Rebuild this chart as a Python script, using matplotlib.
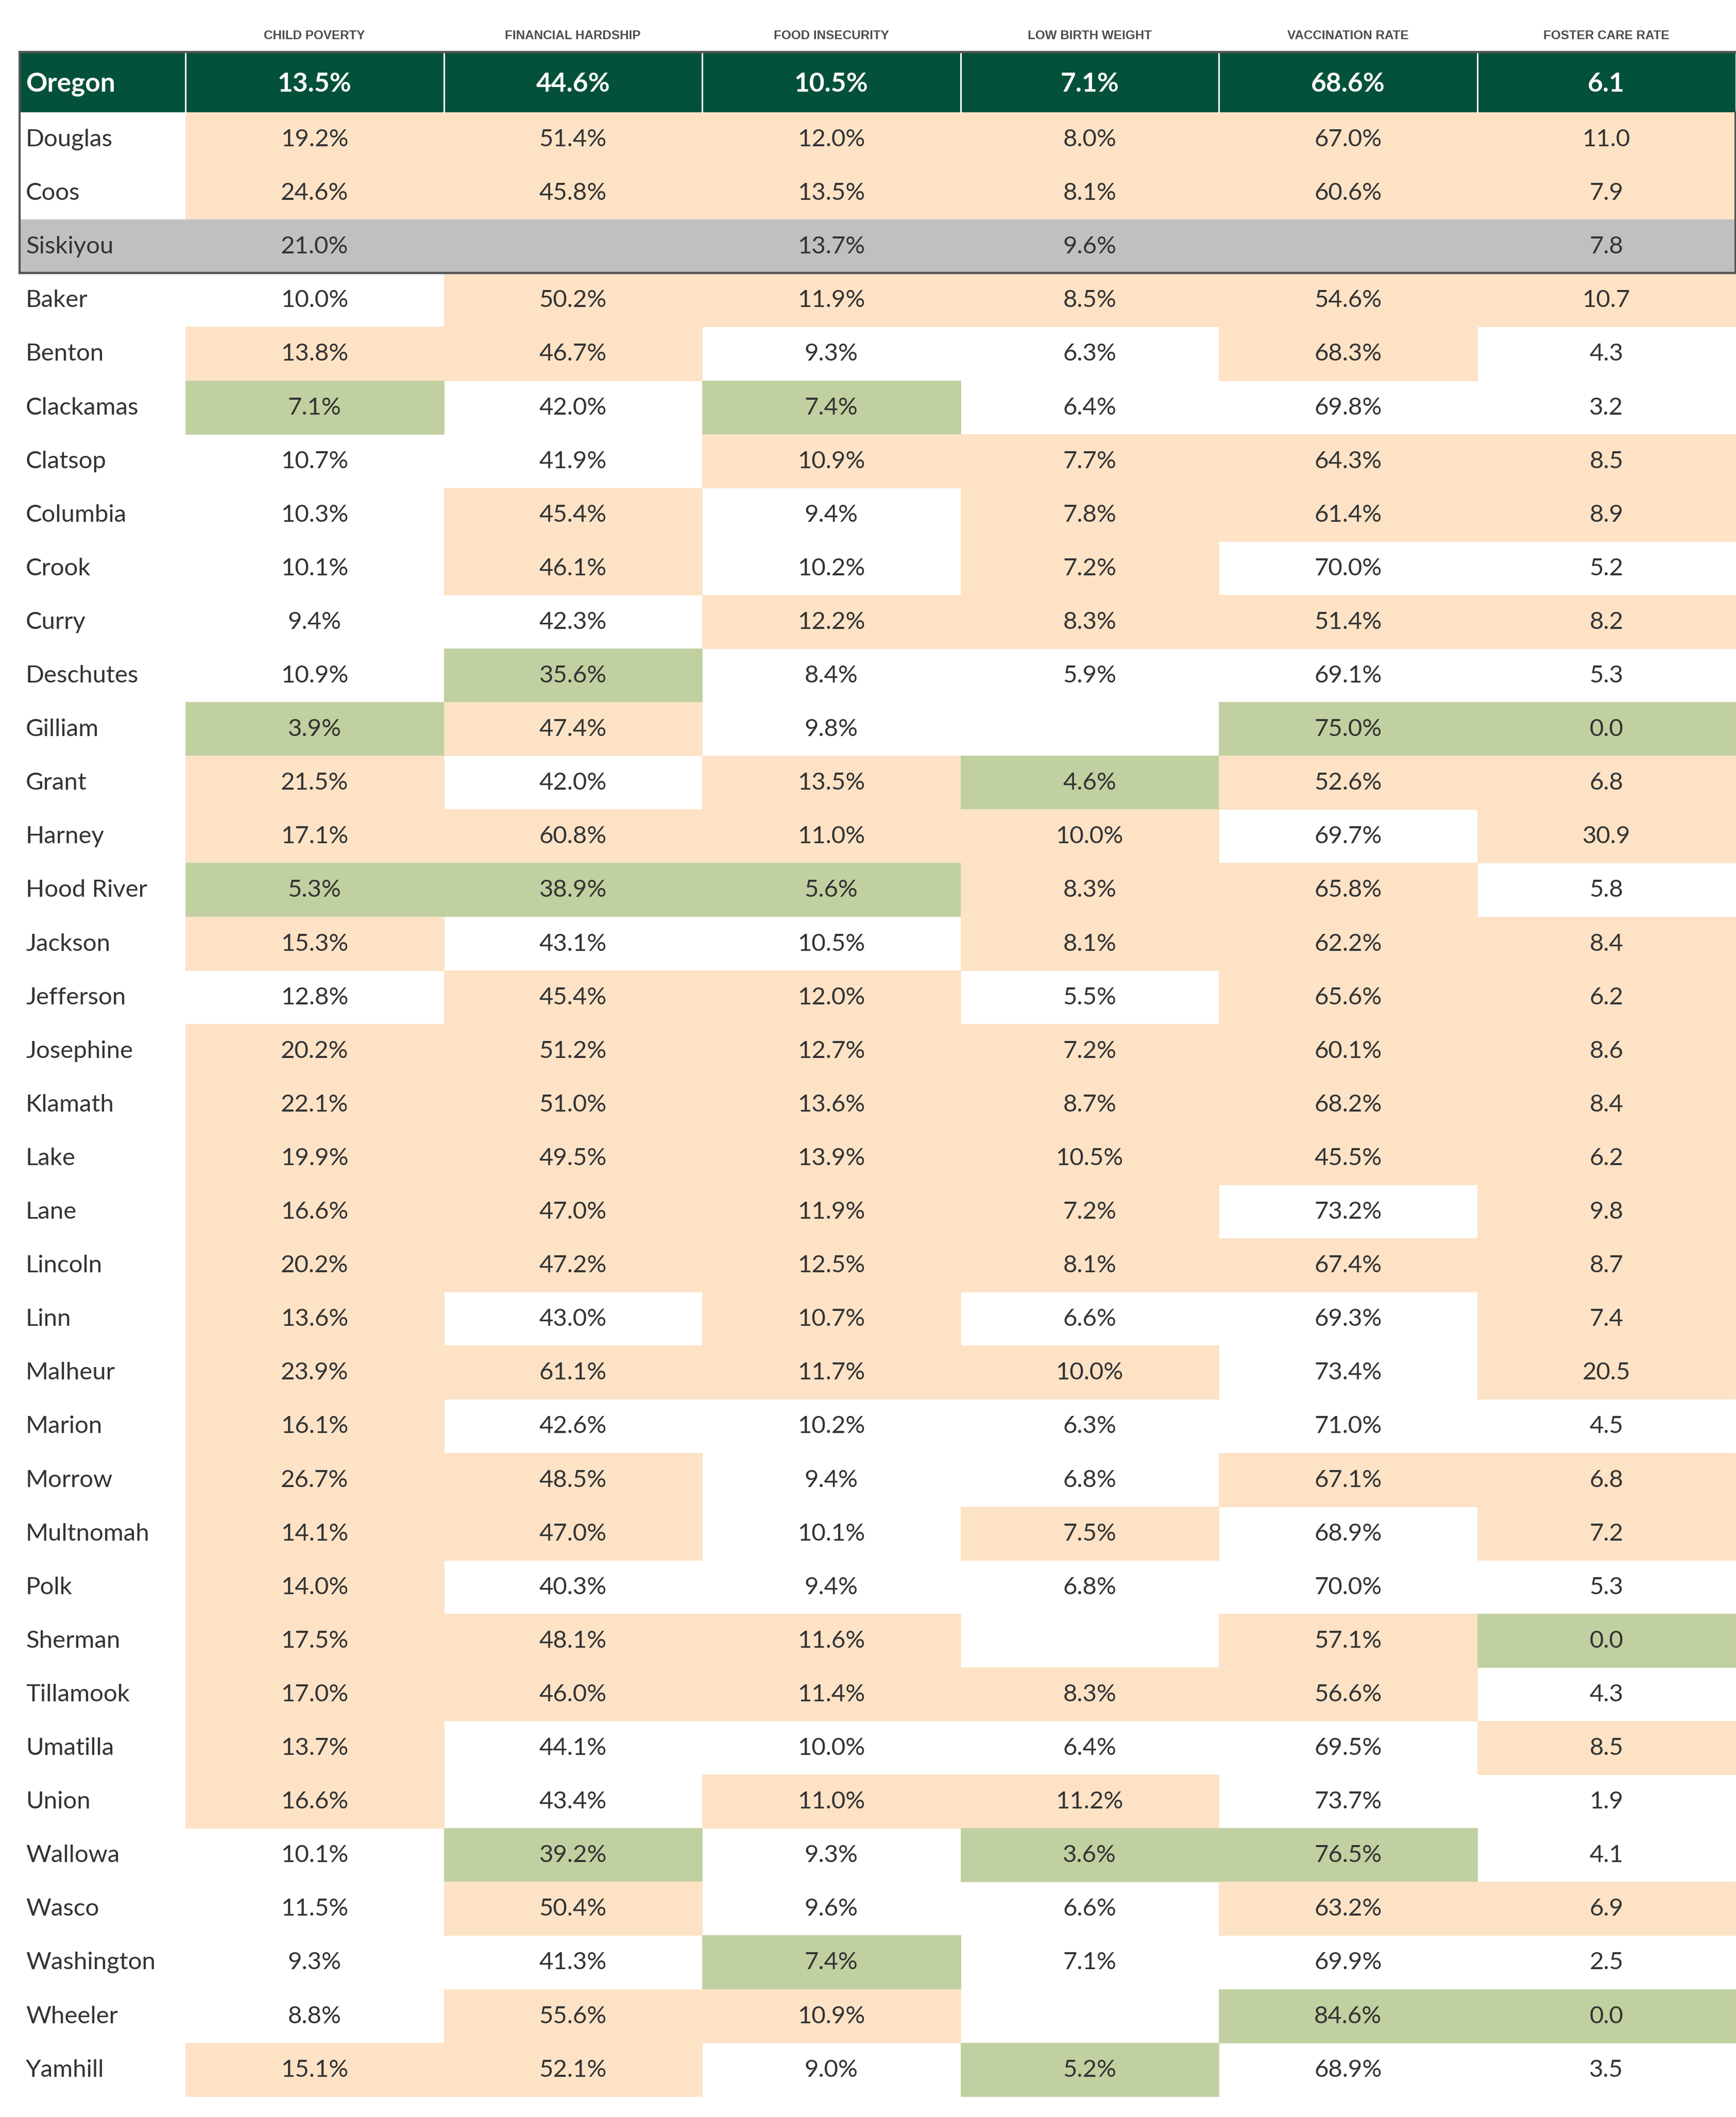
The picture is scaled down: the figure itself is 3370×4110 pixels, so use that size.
import matplotlib
matplotlib.use("Agg")
import matplotlib.pyplot as plt
from matplotlib.patches import Rectangle

# column headers and how each measure is judged
headers = ["CHILD POVERTY", "FINANCIAL HARDSHIP", "FOOD INSECURITY",
           "LOW BIRTH WEIGHT", "VACCINATION RATE", "FOSTER CARE RATE"]
is_percent = [True, True, True, True, True, False]
higher_is_better = [False, False, False, False, True, False]

state_name = "Oregon"
state_values = [13.5, 44.6, 10.5, 7.1, 68.6, 6.1]

counties = ["Douglas", "Coos", "Siskiyou", "Baker", "Benton", "Clackamas",
            "Clatsop", "Columbia", "Crook", "Curry", "Deschutes", "Gilliam",
            "Grant", "Harney", "Hood River", "Jackson", "Jefferson",
            "Josephine", "Klamath", "Lake", "Lane", "Lincoln", "Linn",
            "Malheur", "Marion", "Morrow", "Multnomah", "Polk", "Sherman",
            "Tillamook", "Umatilla", "Union", "Wallowa", "Wasco",
            "Washington", "Wheeler", "Yamhill"]
out_of_state = ["Siskiyou"]

child_poverty = [19.2, 24.6, 21.0, 10.0, 13.8, 7.1, 10.7, 10.3, 10.1, 9.4,
                 10.9, 3.9, 21.5, 17.1, 5.3, 15.3, 12.8, 20.2, 22.1, 19.9,
                 16.6, 20.2, 13.6, 23.9, 16.1, 26.7, 14.1, 14.0, 17.5, 17.0,
                 13.7, 16.6, 10.1, 11.5, 9.3, 8.8, 15.1]
financial_hardship = [51.4, 45.8, None, 50.2, 46.7, 42.0, 41.9, 45.4, 46.1,
                      42.3, 35.6, 47.4, 42.0, 60.8, 38.9, 43.1, 45.4, 51.2,
                      51.0, 49.5, 47.0, 47.2, 43.0, 61.1, 42.6, 48.5, 47.0,
                      40.3, 48.1, 46.0, 44.1, 43.4, 39.2, 50.4, 41.3, 55.6,
                      52.1]
food_insecurity = [12.0, 13.5, 13.7, 11.9, 9.3, 7.4, 10.9, 9.4, 10.2, 12.2,
                   8.4, 9.8, 13.5, 11.0, 5.6, 10.5, 12.0, 12.7, 13.6, 13.9,
                   11.9, 12.5, 10.7, 11.7, 10.2, 9.4, 10.1, 9.4, 11.6, 11.4,
                   10.0, 11.0, 9.3, 9.6, 7.4, 10.9, 9.0]
low_birth_weight = [8.0, 8.1, 9.6, 8.5, 6.3, 6.4, 7.7, 7.8, 7.2, 8.3, 5.9,
                    None, 4.6, 10.0, 8.3, 8.1, 5.5, 7.2, 8.7, 10.5, 7.2, 8.1,
                    6.6, 10.0, 6.3, 6.8, 7.5, 6.8, None, 8.3, 6.4, 11.2, 3.6,
                    6.6, 7.1, None, 5.2]
vaccination_rate = [67.0, 60.6, None, 54.6, 68.3, 69.8, 64.3, 61.4, 70.0,
                    51.4, 69.1, 75.0, 52.6, 69.7, 65.8, 62.2, 65.6, 60.1,
                    68.2, 45.5, 73.2, 67.4, 69.3, 73.4, 71.0, 67.1, 68.9,
                    70.0, 57.1, 56.6, 69.5, 73.7, 76.5, 63.2, 69.9, 84.6,
                    68.9]
foster_care_rate = [11.0, 7.9, 7.8, 10.7, 4.3, 3.2, 8.5, 8.9, 5.2, 8.2, 5.3,
                    0.0, 6.8, 30.9, 5.8, 8.4, 6.2, 8.6, 8.4, 6.2, 9.8, 8.7,
                    7.4, 20.5, 4.5, 6.8, 7.2, 5.3, 0.0, 4.3, 8.5, 1.9, 4.1,
                    6.9, 2.5, 0.0, 3.5]

columns = [child_poverty, financial_hardship, food_insecurity,
           low_birth_weight, vaccination_rate, foster_care_rate]

# colours
DARK_GREEN = "#03513a"
PEACH = "#fde2c6"
LIGHT_GREEN = "#c1d0a0"
GRAY = "#c0c0c0"
BORDER = "#555555"
TEXT = "#333333"

W, H = 3370, 4110
fig = plt.figure(figsize=(W / 100, H / 100), dpi=100)
ax = fig.add_axes([0, 0, 1, 1])
ax.set_xlim(0, W)
ax.set_ylim(H, 0)
ax.axis("off")

left = 38
name_w = 322
col_w = 501.5
top = 101
state_h = 117
row_h = 104.1
body_top = top + state_h

FONT = ["Lato", "DejaVu Sans"]
HEAD_FONT = ["Liberation Sans Narrow", "Liberation Sans", "DejaVu Sans"]


def fmt(v, pct):
    if v is None:
        return ""
    return f"{v:.1f}%" if pct else f"{v:.1f}"


def col_x(j):
    return left + name_w + col_w * j


# top-3 (best) threshold per measure, Oregon counties only
green_cut = []
for j, vals in enumerate(columns):
    ok = [v for c, v in zip(counties, vals) if v is not None and c not in out_of_state]
    ok = sorted(ok, reverse=higher_is_better[j])
    green_cut.append(ok[2])


def cell_color(j, v):
    if v is None:
        return "white"
    if higher_is_better[j]:
        if v >= green_cut[j]:
            return LIGHT_GREEN
        return PEACH if v < state_values[j] else "white"
    if v <= green_cut[j]:
        return LIGHT_GREEN
    return PEACH if v > state_values[j] else "white"


# header labels
for j, h in enumerate(headers):
    ax.text(col_x(j) + col_w / 2, 69, h, ha="center", va="center",
            fontsize=17.5, fontweight="heavy", color="#4d4d4d", family=HEAD_FONT)

# state row
ax.add_patch(Rectangle((left, top), name_w + 6 * col_w, state_h,
                       facecolor=DARK_GREEN, edgecolor="none"))
for j in range(6):
    ax.plot([col_x(j), col_x(j)], [top, top + state_h], color="white", lw=2.2)
ax.text(left + 12, top + state_h / 2 + 4, state_name, ha="left", va="center",
        fontsize=37, fontweight="bold", color="white", family=FONT)
for j, v in enumerate(state_values):
    ax.text(col_x(j) + col_w / 2, top + state_h / 2 + 4, fmt(v, is_percent[j]),
            ha="center", va="center", fontsize=37, fontweight="bold",
            color="white", family=FONT)

# county rows
for i, county in enumerate(counties):
    y = body_top + row_h * i
    yc = y + row_h / 2 + 1
    gray = county in out_of_state
    if gray:
        ax.add_patch(Rectangle((left, y), name_w + 6 * col_w, row_h,
                               facecolor=GRAY, edgecolor="none"))
    for j, vals in enumerate(columns):
        v = vals[i]
        if not gray:
            c = cell_color(j, v)
            if c != "white":
                ax.add_patch(Rectangle((col_x(j), y), col_w, row_h,
                                       facecolor=c, edgecolor=c, lw=0.6))
        ax.text(col_x(j) + col_w / 2, yc, fmt(v, is_percent[j]), ha="center",
                va="center", fontsize=34, color=TEXT, family=FONT)
    ax.text(left + 12, yc, county, ha="left", va="center", fontsize=34,
            color=TEXT, family=FONT)

# frame around state and neighbour rows
n_box = 3
box_bottom = body_top + row_h * n_box
right = left + name_w + 6 * col_w
ax.plot([left, right], [top, top], color=BORDER, lw=3.2, solid_capstyle="projecting")
ax.plot([left, right], [box_bottom, box_bottom], color=BORDER, lw=3.2,
        solid_capstyle="projecting")
ax.plot([left, left], [top, box_bottom], color=BORDER, lw=3.0)
ax.plot([right, right], [body_top, box_bottom], color=BORDER, lw=3.0)

fig.savefig("out.png", dpi=100)
